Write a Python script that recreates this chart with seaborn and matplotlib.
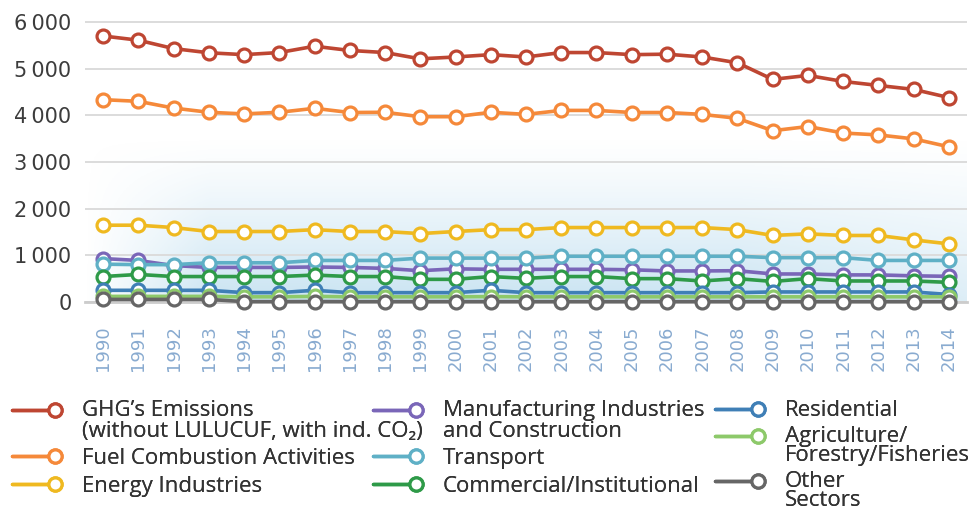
import matplotlib
matplotlib.use('Agg')
import matplotlib.pyplot as plt
from matplotlib.lines import Line2D
from matplotlib.legend_handler import HandlerBase
from matplotlib.ticker import FixedLocator, FuncFormatter
import numpy as np
import pandas as pd
import seaborn as sns

years = list(range(1990, 2015))

ghg = [5700, 5610, 5430, 5340, 5300, 5345, 5480, 5390, 5345, 5210, 5250, 5300, 5250,
       5345, 5345, 5300, 5310, 5250, 5125, 4770, 4855, 4725, 4640, 4555, 4380]
fuel = [4335, 4300, 4155, 4065, 4030, 4065, 4150, 4060, 4065, 3970, 3970, 4065, 4020,
        4105, 4105, 4060, 4060, 4020, 3935, 3670, 3760, 3620, 3580, 3495, 3325]
energy = [1645, 1645, 1595, 1510, 1510, 1510, 1550, 1510, 1510, 1465, 1510, 1550, 1550,
          1595, 1595, 1595, 1595, 1595, 1550, 1425, 1460, 1425, 1425, 1330, 1245]
manufacturing = [930, 890, 780, 740, 740, 740, 750, 740, 720, 670, 710, 700, 700,
                 700, 700, 690, 665, 665, 670, 600, 600, 580, 580, 560, 550]
transport = [810, 800, 800, 840, 840, 840, 890, 890, 890, 940, 940, 940, 940,
             980, 980, 980, 980, 980, 980, 950, 950, 950, 890, 890, 890]
commercial = [545, 590, 545, 545, 545, 545, 577, 545, 545, 485, 485, 545, 506,
              545, 545, 500, 500, 450, 500, 440, 500, 450, 450, 450, 420]
residential = [250, 250, 250, 250, 200, 200, 250, 200, 200, 200, 200, 250, 200,
               200, 200, 200, 200, 200, 200, 215, 215, 215, 215, 215, 160]
agriculture = [120, 120, 120, 120, 110, 110, 120, 110, 110, 110, 110, 115, 110,
               110, 110, 110, 110, 110, 110, 110, 110, 110, 110, 110, 110]
other = [55, 55, 55, 55, 8, 8, 10, 8, 8, 8, 8, 8, 8,
         8, 8, 8, 8, 8, 8, 8, 8, 8, 8, 8, 8]

series = [
    ('GHG\u2019s Emissions\n(without LULUCUF, with ind. CO\u2082)', ghg, '#be4632'),
    ('Fuel Combustion Activities', fuel, '#f5893a'),
    ('Energy Industries', energy, '#efb920'),
    ('Manufacturing Industries\nand Construction', manufacturing, '#7a66b8'),
    ('Transport', transport, '#5fb0c6'),
    ('Commercial/Institutional', commercial, '#2e9a48'),
    ('Residential', residential, '#3f7fb6'),
    ('Agriculture/\nForestry/Fisheries', agriculture, '#8dc96a'),
    ('Other\nSectors', other, '#666666'),
]

sns.set_style('white')
plt.rcParams['font.family'] = ['Open Sans', 'DejaVu Sans']

fig = plt.figure(figsize=(9.72, 5.14), dpi=100)
ax = fig.add_axes([0.0879, 0.4125, 0.9065, 0.552])

# soft blue glow behind the lower part of the plot
gx = np.linspace(1989.5, 2014.5, 300)
gy = np.linspace(0, 3500, 200)
GX, GY = np.meshgrid(gx, gy)
glow = np.zeros(GX.shape + (4,))
glow[..., 0], glow[..., 1], glow[..., 2] = 0.74, 0.87, 0.94
vert = np.clip((3500 - GY) / 3500, 0, 1) ** 1.2
horiz = np.clip((GX - 1989.5) / 3.5, 0, 1) * (1 - 0.35 * np.clip((GX - 2008) / 6.5, 0, 1))
glow[..., 3] = 0.8 * vert * horiz
ax.imshow(glow, extent=(1989.5, 2014.5, 0, 3500), origin='lower', aspect='auto', zorder=0)

for label, vals, color in series:
    df = pd.DataFrame({'year': years, 'value': vals})
    sns.lineplot(data=df, x='year', y='value', ax=ax, color=color, linewidth=2.6,
                 marker='o', markersize=9.3, markerfacecolor='white',
                 markeredgecolor=color, markeredgewidth=2.3, zorder=3, clip_on=False)

ax.set_xlim(1989.5, 2014.5)
ax.set_ylim(0, 6080)
ax.set_xlabel('')
ax.set_ylabel('')

ax.yaxis.set_major_locator(FixedLocator([0, 1000, 2000, 3000, 4000, 5000, 6000]))
ax.yaxis.set_major_formatter(FuncFormatter(
    lambda v, p: '0' if v == 0 else f'{int(v) // 1000}\u2009{int(v) % 1000:03d}'))
ax.grid(axis='y', color='#dcdcdc', linewidth=1.4, zorder=1)
ax.set_axisbelow(True)

ax.set_xticks(years)
ax.set_xticklabels([str(y) for y in years], rotation=90, family='DejaVu Sans',
                   fontsize=13, color='#89abd0')
ax.set_xticks([y + 0.5 for y in years[:-1]] + [1989.5, 2014.5], minor=True)
ax.tick_params(axis='x', which='major', length=0, pad=17)
ax.tick_params(axis='x', which='minor', length=7, width=1.8, color='#d0d0d0', direction='out')
ax.tick_params(axis='y', length=0, pad=10)
for t in ax.get_yticklabels():
    t.set_family('DejaVu Sans')
    t.set_fontsize(15)
    t.set_color('#3c3c3c')

for s in ['top', 'right', 'left']:
    ax.spines[s].set_visible(False)
ax.spines['bottom'].set_color('#cccccc')
ax.spines['bottom'].set_linewidth(2)


class EndMarker(HandlerBase):
    # line with the open circle at its right end, level with the first text line
    def create_artists(self, legend, orig_handle, xdescent, ydescent,
                       width, height, fontsize, trans):
        c = orig_handle.get_color()
        y = (height - ydescent) / 2 + orig_handle.extra * fontsize * orig_handle.shift
        x0, x1 = -xdescent, -xdescent + width
        line = Line2D([x0, x1 - 6], [y, y], color=c, linewidth=2.5, transform=trans)
        mark = Line2D([x1 - 6], [y], marker='o', markersize=9.5, markerfacecolor='white',
                      markeredgecolor=c, markeredgewidth=2.3, linestyle='', transform=trans)
        return [line, mark]


legend_x = [12 / 972, 373 / 972, 715 / 972]
label_gap = [0.3, 0.3, 0.22]
line_gap = [0.95, 0.95, 0.88]
for col in range(3):
    handles, labels = [], []
    for label, _, color in series[col * 3:col * 3 + 3]:
        h = Line2D([], [], color=color)
        h.extra = label.count('\n')
        h.shift = 0.52 * line_gap[col] / 0.95
        handles.append(h)
        labels.append(label)
    leg = fig.legend(handles, labels, loc='upper left', bbox_to_anchor=(legend_x[col], 0.221),
                     frameon=False, fontsize=16, labelcolor='#333333',
                     handler_map={Line2D: EndMarker()}, handlelength=2.3,
                     handletextpad=0.85, labelspacing=label_gap[col], borderpad=0,
                     borderaxespad=0)
    for t in leg.get_texts():
        t.set_linespacing(line_gap[col])
    fig.add_artist(leg)

fig.savefig('out.png', dpi=100)
